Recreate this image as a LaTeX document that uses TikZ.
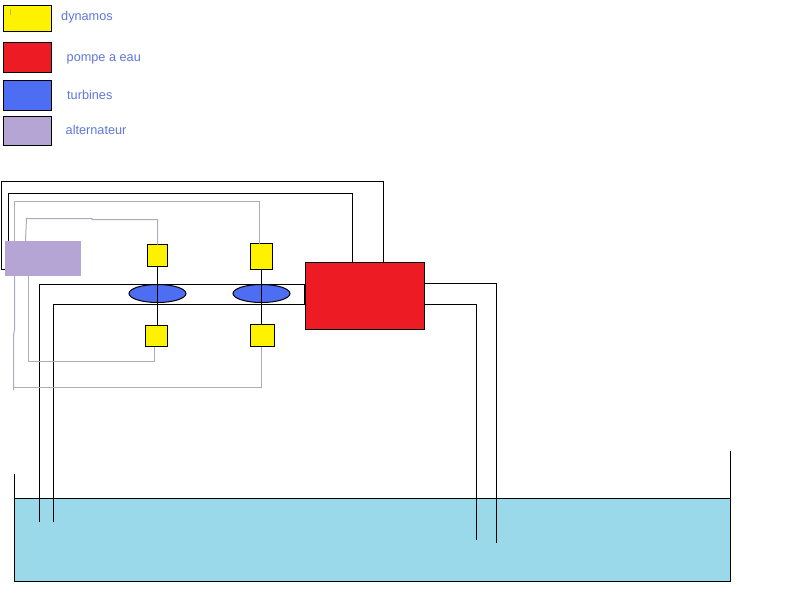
\documentclass[tikz,border=0pt]{standalone}
\usepackage{fontspec}
\setmainfont{Liberation Sans}
\usetikzlibrary{calc,shapes.geometric}
\definecolor{cyellow}{HTML}{FFF200}
\definecolor{cred}{HTML}{ED1C24}
\definecolor{cblue}{HTML}{4D6DF3}
\definecolor{cpurple}{HTML}{B5A5D5}
\definecolor{cwater}{HTML}{99D9EA}
\definecolor{clabel}{HTML}{5F78D8}
\definecolor{cgrey}{HTML}{ABABC0}
\definecolor{cmark}{HTML}{C8BE50}
\newcommand{\boxat}[6]{%
  \pgfmathsetmacro{\bxw}{#4-#2}\pgfmathsetmacro{\bxh}{#5-#3}%
  \node[#6,minimum width=\bxw pt,minimum height=\bxh pt] (#1) at ({(#2+#4)/2},{(#3+#5)/2}) {};}
\tikzset{
  base/.style={rectangle,inner sep=0pt,outer sep=0pt},
  keybox/.style={base,draw=black,line width=1pt},
  plainbox/.style={base},
  turbine/.style={ellipse,inner sep=0pt,outer sep=0pt,draw=black,line width=1pt,fill=cblue,minimum width=57pt,minimum height=18pt},
  legendtext/.style={anchor=base west,inner sep=0pt,text=clabel,font=\fontsize{12.7}{14}\selectfont},
  pipe/.style={draw=black,line width=1pt},
  wire/.style={draw=cgrey,line width=1pt}
}
\begin{document}
\begin{tikzpicture}[x=1pt,y=-1pt]
\useasboundingbox (0,0) rectangle (800,600);
\fill[white] (0,0) rectangle (800,600);
% legend
\boxat{ky}{3.5}{5.5}{51.5}{31.5}{keybox,fill=cyellow}
\boxat{kr}{3.5}{42.5}{51.5}{72}{keybox,fill=cred}
\boxat{kb}{3.5}{80.5}{51.5}{110}{keybox,fill=cblue}
\boxat{kp}{3.5}{116.5}{51.5}{145}{keybox,fill=cpurple}
\draw[cmark,line width=0.8pt] (10.5,9) -- (10.5,15);
\node[legendtext] (ty) at (61,20) {dynamos};
\node[legendtext] (tr) at (66.5,61) {pompe a eau};
\node[legendtext] (tb) at (67,99) {turbines};
\node[legendtext] (tp) at (65.5,134) {alternateur};
% water tank
\boxat{tank}{14.5}{498.5}{730.5}{581.5}{plainbox,fill=cwater}
\coordinate (wallL) at (14.5,474);
\coordinate (wallR) at (730.5,451);
\draw[pipe] (wallL) -- (tank.south west) -- (tank.south east) -- (wallR);
\draw[pipe] (tank.north west) -- (tank.north east);
% main nodes
\boxat{alt}{5}{241}{81}{276}{plainbox,fill=cpurple}
\boxat{pump}{305.5}{262.5}{424.5}{329.5}{keybox,fill=cred}
\boxat{d1}{147.5}{244.5}{167.5}{266.5}{keybox,fill=cyellow}
\boxat{d2}{145.5}{325.5}{167.5}{346.5}{keybox,fill=cyellow}
\boxat{d3}{250.5}{243.5}{272.5}{269.5}{keybox,fill=cyellow}
\boxat{d4}{250.5}{324.5}{274.5}{346.5}{keybox,fill=cyellow}
\coordinate (inL1) at (39.5,522);
\coordinate (inL2) at (53.5,522);
\coordinate (outR1) at (496.5,543);
\coordinate (outR2) at (476.5,540);
% water pipes
\draw[pipe] (inL1) -- (39.5,284.5) -- (39.5,284.5 -| pump.west);
\draw[pipe] (inL2) -- (53.5,304.5) -- (53.5,304.5 -| pump.west);
\draw[pipe] (304.5,284.5) -- (304.5,304.5);
\draw[pipe] (pump.east |- 0,283.5) -- (496.5,283.5) -- (outR1);
\draw[pipe] (pump.east |- 0,304.5) -- (476.5,304.5) -- (outR2);
% turbines
\node[turbine] (t1) at (157.5,293.5) {};
\node[turbine] (t2) at (261.5,293.5) {};
\draw[pipe] (157.5,266.5) -- (157.5,325.5);
\draw[pipe] (261.5,269.5) -- (261.5,324.5);
% black wires alternator to pump
\draw[pipe] (alt.west |- 0,269) -- (1.5,269) -- (1.5,181.5) -- (383.5,181.5) -- (383.5,181.5 |- pump.north);
\draw[pipe] (8.5,241) -- (8.5,193.5) -- (352.5,193.5) -- (352.5,193.5 |- pump.north);
% grey wires
\draw[wire] (25.5,241) -- (26.5,218.5) -- (92,218.5) -- (92,219.5) -- (157.5,219.5) -- (157.5,219.5 |- d1.north);
\draw[wire] (14.5,241) -- (14.5,201.5) -- (259.5,201.5) -- (259.5,201.5 |- d3.north);
\draw[wire] (28.5,276) -- (28.5,361.5) -- (154.5,361.5) -- (154.5,361.5 |- d2.south);
\draw[wire] (14.5,276) -- (14.5,330) -- (13.5,335) -- (13.5,390);
\draw[wire] (13.5,387.5) -- (261.5,387.5) -- (261.5,387.5 |- d4.south);
\end{tikzpicture}
\end{document}
